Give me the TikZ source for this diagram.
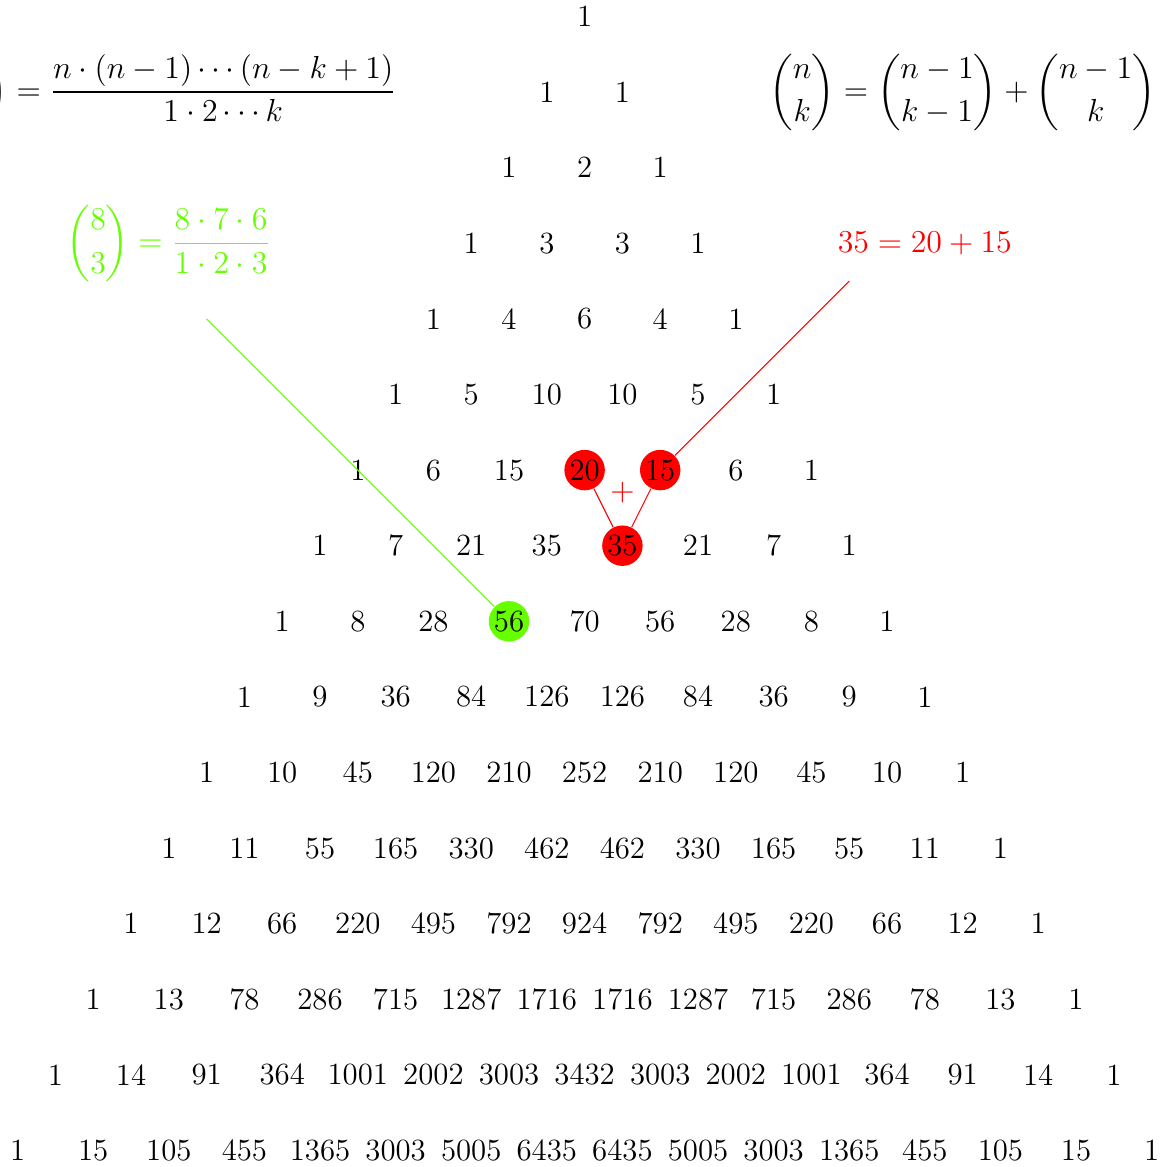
\documentclass[tikz,border=0pt]{standalone}
\usepackage{amsmath}
\definecolor{grn}{rgb}{0.4,1,0}
\begin{document}
\begin{tikzpicture}[x=1cm,y=1cm,
  every node/.style={font=\fontsize{11.6}{14}\selectfont},
  num/.style={circle,inner sep=0.5pt},
  redc/.style={num,fill=red},
  greenc/.style={num,fill=grn},
  redline/.style={red},
  greenline/.style={grn}]
\useasboundingbox (-7.733,0.218) rectangle (7.730,-15.218);
\foreach \row [count=\n from 0] in {
  {1},
  {1,1},
  {1,2,1},
  {1,3,3,1},
  {1,4,6,4,1},
  {1,5,10,10,5,1},
  {1,6,15,20,15,6,1},
  {1,7,21,35,35,21,7,1},
  {1,8,28,56,70,56,28,8,1},
  {1,9,36,84,126,126,84,36,9,1},
  {1,10,45,120,210,252,210,120,45,10,1},
  {1,11,55,165,330,462,462,330,165,55,11,1},
  {1,12,66,220,495,792,924,792,495,220,66,12,1},
  {1,13,78,286,715,1287,1716,1716,1287,715,286,78,13,1},
  {1,14,91,364,1001,2002,3003,3432,3003,2002,1001,364,91,14,1},
  {1,15,105,455,1365,3003,5005,6435,6435,5005,3003,1365,455,105,15,1}} {
  \foreach \v [count=\k from 0] in \row {
    \tikzset{cur/.style={num}}
    \ifnum\n=6 \ifnum\k=3 \tikzset{cur/.style={redc}}\fi\ifnum\k=4 \tikzset{cur/.style={redc}}\fi\fi
    \ifnum\n=7 \ifnum\k=4 \tikzset{cur/.style={redc}}\fi\fi
    \ifnum\n=8 \ifnum\k=3 \tikzset{cur/.style={greenc}}\fi\fi
    \node[cur] (p-\n-\k) at ({\k-\n/2},-\n) {\v};
  }
}
% formulas
\node[anchor=east,inner sep=0pt] (f1) at (-2.482,-1)
  {$\displaystyle\binom{n}{k}=\frac{n\cdot(n-1)\cdots(n-k+1)}{1\cdot2\cdots k}$};
\node (f2) at (5,-1)
  {$\displaystyle\binom{n}{k}=\binom{n-1}{k-1}+\binom{n-1}{k}$};
% green example
\node[text=grn] (geq) at (-5.5,-3)
  {$\displaystyle\binom{8}{3}=\frac{8\cdot7\cdot6}{1\cdot2\cdot3}$};
\coordinate (gs) at (-5,-4);
\draw[greenline] (gs) -- (p-8-3);
% red example
\node[text=red] (req) at (4.5,-3) {$35=20+15$};
\coordinate (rs) at (3.5,-3.5);
\draw[redline] (rs) -- (p-6-4);
\draw[redline] (p-6-3) -- (p-7-4);
\draw[redline] (p-6-4) -- (p-7-4);
\node[text=red] (plus) at (0.5,-6.3) {$+$};
\end{tikzpicture}
\end{document}
